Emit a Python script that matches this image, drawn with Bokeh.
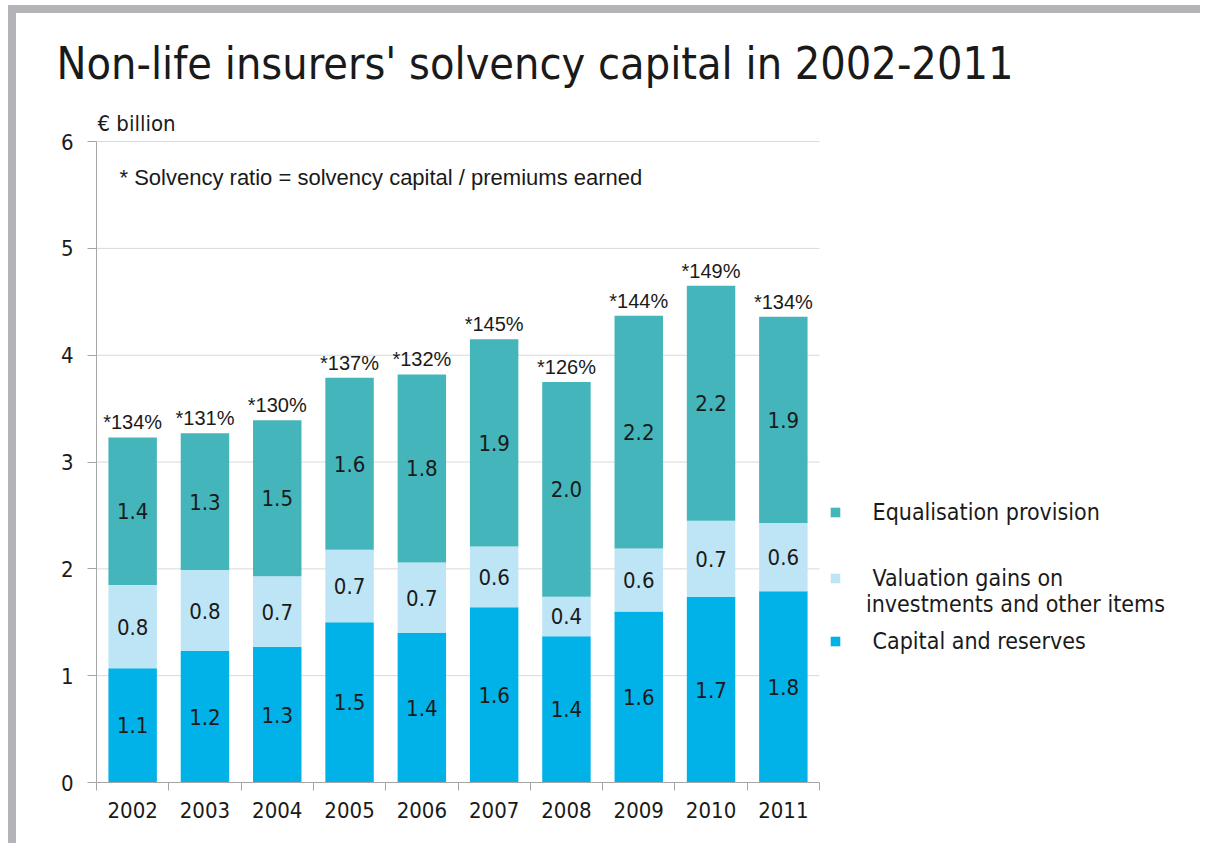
from bokeh.plotting import figure
from bokeh.models import (ColumnDataSource, Range1d, LinearAxis, FixedTicker,
                          CustomJSTickFormatter, Label, Legend, LegendItem, Title)
from bokeh.core.properties import value
from bokeh.embed import file_html
from bokeh.resources import INLINE

# ---------------- data ----------------
years = ["2002", "2003", "2004", "2005", "2006", "2007", "2008", "2009", "2010", "2011"]
capital = [1.07, 1.23, 1.27, 1.50, 1.40, 1.64, 1.37, 1.60, 1.74, 1.79]
valuation = [0.78, 0.76, 0.66, 0.68, 0.66, 0.57, 0.37, 0.59, 0.71, 0.64]
equalisation = [1.38, 1.28, 1.46, 1.61, 1.76, 1.94, 2.01, 2.18, 2.20, 1.93]
solvency_ratio = [134, 131, 130, 137, 132, 145, 126, 144, 149, 134]
series_names = ["Capital and reserves",
                "Valuation gains on\ninvestments and other items",
                "Equalisation provision"]
y_ticks = [0, 1, 2, 3, 4, 5, 6]

# ---------------- styles / layout ----------------
C_CAP = "#00B2E8"
C_VAL = "#BEE5F5"
C_EQ = "#44B5BA"
TXT = "#1A1A1A"
AXIS = "#A6A6A6"
GRID = "#D9D9D9"
F_MAIN = "DejaVu Sans Condensed"
F_ARIAL = "Liberation Sans"

W, H = 1192, 838
MB_LEFT, MB_TOP, MB_BOTTOM = 80, 127, 69
CAT_PX = 72.3                      # pixel width of one year slot
frame_w = W - MB_LEFT
n = len(years)

x = [i + 0.5 for i in range(n)]
val_base = capital
eq_base = [c + v for c, v in zip(capital, valuation)]
total = [c + v + e for c, v, e in zip(capital, valuation, equalisation)]

src = ColumnDataSource(dict(
    x=x, year=years,
    capital=capital, valuation=valuation, equalisation=equalisation,
    cap_mid=[c / 2 for c in capital],
    val_mid=[b + v / 2 for b, v in zip(val_base, valuation)],
    eq_mid=[b + e / 2 for b, e in zip(eq_base, equalisation)],
    cap_lbl=[f"{v:.1f}" for v in capital],
    val_lbl=[f"{v:.1f}" for v in valuation],
    eq_lbl=[f"{v:.1f}" for v in equalisation],
    total=total,
    ratio_lbl=[f"*{r}%" for r in solvency_ratio],
))

p = figure(width=W, height=H, output_backend="svg", toolbar_location=None,
           x_range=Range1d(0, frame_w / CAT_PX), y_range=Range1d(0, 6.01),
           title_location=None,
           min_border_left=MB_LEFT, min_border_right=0,
           min_border_top=MB_TOP, min_border_bottom=MB_BOTTOM)
p.styles = {"border-left": "8px solid #B4B4B8", "border-top": "8px solid #B4B4B8",
            "margin-left": "8px", "margin-top": "5px"}
p.outline_line_color = None
p.background_fill_color = "white"
p.border_fill_color = "white"

# horizontal gridlines limited to the category area
p.segment(x0=0, x1=n, y0=y_ticks, y1=y_ticks, line_color=GRID, line_width=1)

renderers = p.vbar_stack(["capital", "valuation", "equalisation"], x="x", width=0.67,
                         color=[C_CAP, C_VAL, C_EQ], line_color=None, source=src)

# segment labels
for col, lab in [("cap_mid", "cap_lbl"), ("val_mid", "val_lbl"), ("eq_mid", "eq_lbl")]:
    p.text(x="x", y=col, text=lab, source=src, text_align="center",
           text_baseline="middle", text_font=value(F_MAIN),
           text_font_size="22px", text_color=TXT)

# ratio labels above bars
p.text(x="x", y="total", text="ratio_lbl", source=src, text_align="center",
       text_baseline="bottom", y_offset=-4, text_font=value(F_ARIAL),
       text_font_size="20px", text_color=TXT)

# y axis
p.yaxis.ticker = FixedTicker(ticks=y_ticks)
p.yaxis.bounds = (0, 6)
p.yaxis.axis_line_color = AXIS
p.yaxis.major_tick_line_color = AXIS
p.yaxis.major_tick_out = 9
p.yaxis.major_tick_in = 0
p.yaxis.minor_tick_line_color = None
p.yaxis.major_label_standoff = 14
p.yaxis.major_label_text_font = F_MAIN
p.yaxis.major_label_text_font_size = "22px"
p.yaxis.major_label_text_color = TXT
p.ygrid.grid_line_color = None
p.xgrid.grid_line_color = None

# x axis: boundary ticks
p.xaxis.ticker = FixedTicker(ticks=list(range(n + 1)))
p.xaxis.bounds = (0, n)
p.xaxis.formatter = CustomJSTickFormatter(code="return ''")
p.xaxis.major_label_text_font_size = "0px"
p.xaxis.major_label_standoff = 0
p.xaxis.axis_line_color = AXIS
p.xaxis.major_tick_line_color = AXIS
p.xaxis.major_tick_out = 8
p.xaxis.major_tick_in = 0
p.xaxis.minor_tick_line_color = None

# x axis: year labels at category centres
lab_axis = LinearAxis(ticker=FixedTicker(ticks=x), bounds=(0, n),
                      formatter=CustomJSTickFormatter(args=dict(labels=years),
                                                      code="return labels[Math.floor(tick)]"))
lab_axis.axis_line_color = None
lab_axis.major_tick_line_color = None
lab_axis.minor_tick_line_color = None
lab_axis.major_label_standoff = 5
lab_axis.major_label_text_font = F_MAIN
lab_axis.major_label_text_font_size = "22px"
lab_axis.major_label_text_color = TXT
p.add_layout(lab_axis, "below")

# titles above the frame (first added = closest to frame)
p.add_layout(Title(text="€ billion", align="left", offset=1, standoff=9,
                   text_font=F_MAIN, text_font_size="22px", text_font_style="normal",
                   text_color=TXT), "above")
p.add_layout(Title(text="Non-life insurers' solvency capital in 2002-2011", align="left",
                   offset=-40, standoff=29, text_font=F_MAIN, text_font_size="44.6px",
                   text_font_style="normal", text_color=TXT), "above")

# footnote inside the frame
p.add_layout(Label(x=23, y=605, x_units="screen", y_units="screen",
                   text="* Solvency ratio = solvency capital / premiums earned",
                   text_font=F_ARIAL, text_font_size="22px", text_color=TXT,
                   text_baseline="alphabetic"))

# legends (one per entry, placed to the right of the bars)
leg_specs = [
    (2, "\u00a0" + series_names[2], 257),
    (1, "\u00a0\n\u00a0" + series_names[1], 165),
    (0, "\u00a0" + series_names[0], 128),
]
for idx, label, vy in leg_specs:
    lg = Legend(items=[LegendItem(label=label, renderers=[renderers[idx]])],
                location=(733, vy), orientation="vertical",
                padding=0, margin=0, spacing=0,
                border_line_color=None, background_fill_alpha=0,
                glyph_width=12, glyph_height=12, label_height=27,
                label_standoff=25, label_text_font=F_MAIN,
                label_text_font_size="23px", label_text_color=TXT)
    p.add_layout(lg)

open("out.html", "w").write(file_html(p, INLINE))
